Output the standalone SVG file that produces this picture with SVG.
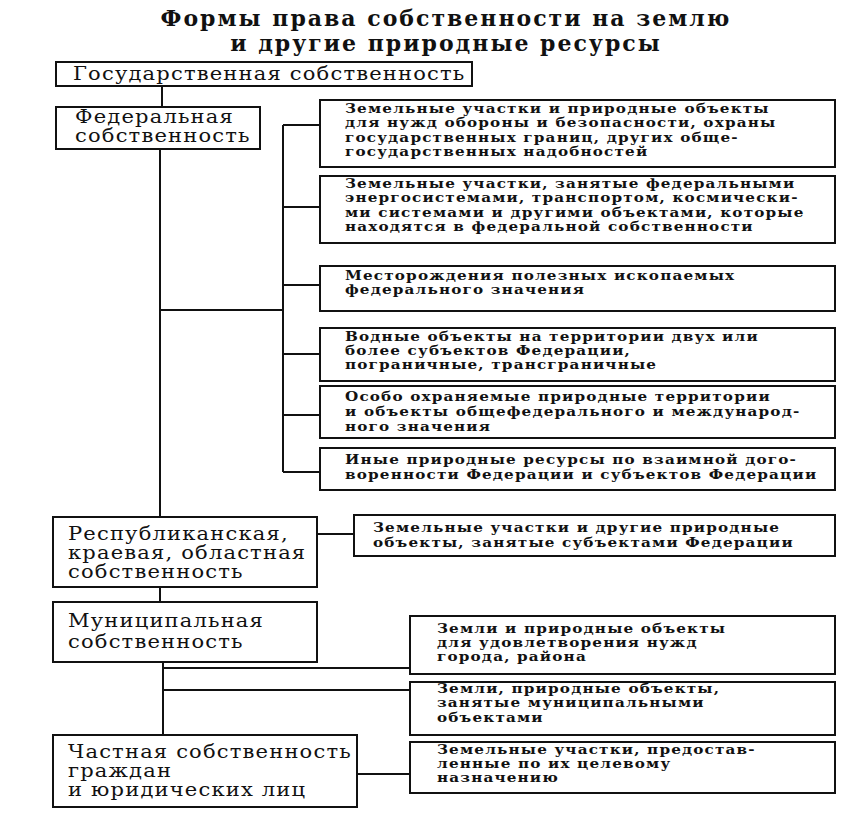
<svg xmlns="http://www.w3.org/2000/svg" width="848" height="821" viewBox="0 0 848 821">
<style>
.box{fill:#fff;stroke:#111;stroke-width:2}
.ln{fill:none;stroke:#111;stroke-width:2}
.title{font-family:"DejaVu Serif","Liberation Serif",serif;font-weight:bold;font-size:22px;letter-spacing:2px;fill:#111;text-anchor:middle}
.big{font-family:"DejaVu Serif","Liberation Serif",serif;font-size:18px;letter-spacing:1px;fill:#111}
.sm{font-family:"DejaVu Serif","Liberation Serif",serif;font-weight:bold;font-size:13px;letter-spacing:1px;fill:#111}
</style>
<rect width="848" height="821" fill="#fff"/>
<g id="title">
<text class="title" x="446" y="26">Формы права собственности на землю</text>
<text class="title" x="446" y="51">и другие природные ресурсы</text>
</g>
<g id="connectors">
<path class="ln" d="M162 86V107"/>
<path class="ln" d="M160 149V517"/>
<path class="ln" d="M160 310H283"/>
<path class="ln" d="M283 125V472"/>
<path class="ln" d="M283 125H320M283 207H320M283 285H320M283 354H320M283 415H320M283 472H320"/>
<path class="ln" d="M317 534H354"/>
<path class="ln" d="M160 587V602"/>
<path class="ln" d="M163 662V735"/>
<path class="ln" d="M163 668H410M163 690H410"/>
<path class="ln" d="M357 774H410"/>
</g>
<g id="gos">
<rect class="box" x="56" y="62" width="416" height="24"/>
<g transform="translate(73 0) scale(1.17 1)"><text class="big" x="0" y="80">Государственная собственность</text></g>
</g>
<g id="fed">
<rect class="box" x="56" y="107" width="204" height="42"/>
<g transform="translate(75 0) scale(1.17 1)">
<text class="big" x="0" y="123">Федеральная</text>
<text class="big" x="0" y="142">собственность</text>
</g>
</g>
<g id="f1">
<rect class="box" x="320" y="100" width="515" height="67"/>
<g transform="translate(345 0) scale(1.17 1)">
<text class="sm" x="0" y="113">Земельные участки и природные объекты</text>
<text class="sm" x="0" y="127.5">для нужд обороны и безопасности, охраны</text>
<text class="sm" x="0" y="142">государственных границ, других обще-</text>
<text class="sm" x="0" y="156.5">государственных надобностей</text>
</g>
</g>
<g id="f2">
<rect class="box" x="320" y="176" width="515" height="67"/>
<g transform="translate(345 0) scale(1.17 1)">
<text class="sm" x="0" y="188">Земельные участки, занятые федеральными</text>
<text class="sm" x="0" y="202.5">энергосистемами, транспортом, космически-</text>
<text class="sm" x="0" y="217">ми системами и другими объектами, которые</text>
<text class="sm" x="0" y="231.5">находятся в федеральной собственности</text>
</g>
</g>
<g id="f3">
<rect class="box" x="320" y="266" width="515" height="45"/>
<g transform="translate(345 0) scale(1.17 1)">
<text class="sm" x="0" y="280">Месторождения полезных ископаемых</text>
<text class="sm" x="0" y="294.5">федерального значения</text>
</g>
</g>
<g id="f4">
<rect class="box" x="320" y="328" width="515" height="53"/>
<g transform="translate(345 0) scale(1.17 1)">
<text class="sm" x="0" y="341">Водные объекты на территории двух или</text>
<text class="sm" x="0" y="355">более субъектов Федерации,</text>
<text class="sm" x="0" y="369">пограничные, трансграничные</text>
</g>
</g>
<g id="f5">
<rect class="box" x="320" y="386" width="515" height="52"/>
<g transform="translate(345 0) scale(1.17 1)">
<text class="sm" x="0" y="401">Особо охраняемые природные территории</text>
<text class="sm" x="0" y="416">и объекты общефедерального и международ-</text>
<text class="sm" x="0" y="431">ного значения</text>
</g>
</g>
<g id="f6">
<rect class="box" x="320" y="448" width="515" height="42"/>
<g transform="translate(345 0) scale(1.17 1)">
<text class="sm" x="0" y="464">Иные природные ресурсы по взаимной дого-</text>
<text class="sm" x="0" y="479">воренности Федерации и субъектов Федерации</text>
</g>
</g>
<g id="resp">
<rect class="box" x="53" y="517" width="264" height="70"/>
<g transform="translate(68 0) scale(1.17 1)">
<text class="big" x="0" y="540">Республиканская,</text>
<text class="big" x="0" y="559">краевая, областная</text>
<text class="big" x="0" y="578">собственность</text>
</g>
</g>
<g id="r1">
<rect class="box" x="354" y="515" width="481" height="41"/>
<g transform="translate(373 0) scale(1.17 1)">
<text class="sm" x="0" y="532">Земельные участки и другие природные</text>
<text class="sm" x="0" y="547">объекты, занятые субъектами Федерации</text>
</g>
</g>
<g id="mun">
<rect class="box" x="53" y="602" width="264" height="60"/>
<g transform="translate(68 0) scale(1.17 1)">
<text class="big" x="0" y="627">Муниципальная</text>
<text class="big" x="0" y="648">собственность</text>
</g>
</g>
<g id="m1">
<rect class="box" x="410" y="616" width="425" height="58"/>
<g transform="translate(437 0) scale(1.17 1)">
<text class="sm" x="0" y="633">Земли и природные объекты</text>
<text class="sm" x="0" y="647">для удовлетворения нужд</text>
<text class="sm" x="0" y="661">города, района</text>
</g>
</g>
<g id="m2">
<rect class="box" x="410" y="682" width="425" height="53"/>
<g transform="translate(437 0) scale(1.17 1)">
<text class="sm" x="0" y="693">Земли, природные объекты,</text>
<text class="sm" x="0" y="707.5">занятые муниципальными</text>
<text class="sm" x="0" y="722">объектами</text>
</g>
</g>
<g id="chast">
<rect class="box" x="53" y="735" width="304" height="72"/>
<g transform="translate(68 0) scale(1.17 1)">
<text class="big" x="0" y="758">Частная собственность</text>
<text class="big" x="0" y="777">граждан</text>
<text class="big" x="0" y="796">и юридических лиц</text>
</g>
</g>
<g id="m3">
<rect class="box" x="410" y="742" width="425" height="51"/>
<g transform="translate(437 0) scale(1.17 1)">
<text class="sm" x="0" y="754">Земельные участки, предостав-</text>
<text class="sm" x="0" y="768">ленные по их целевому</text>
<text class="sm" x="0" y="782">назначению</text>
</g>
</g>
</svg>
